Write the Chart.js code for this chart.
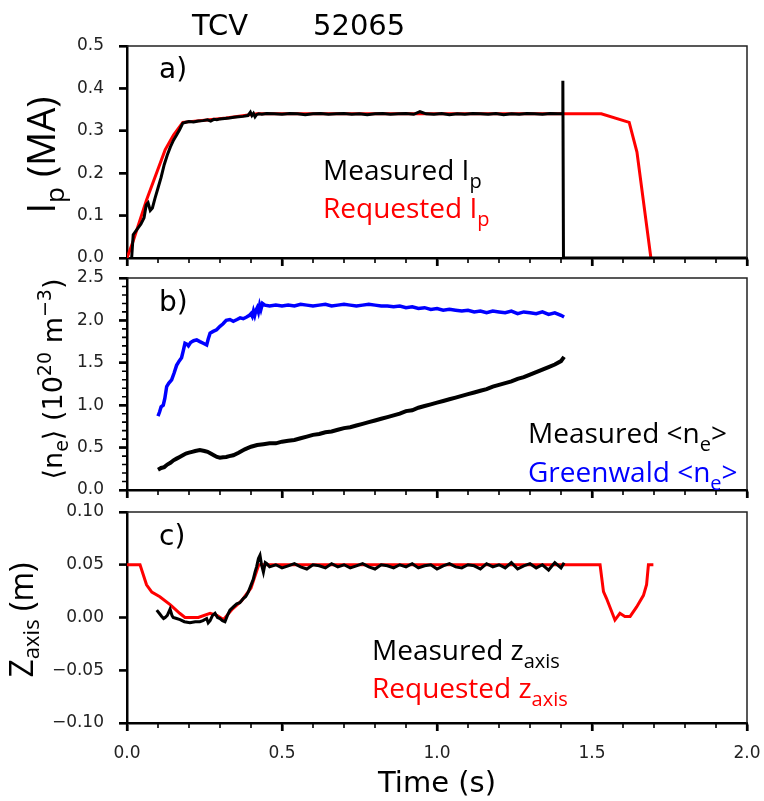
<!DOCTYPE html>
<html>
<head>
<meta charset="utf-8">
<title>TCV 52065</title>
<script src="https://cdn.jsdelivr.net/npm/chart.js@4.4.1/dist/chart.umd.min.js"></script>
<style>
  html, body { margin: 0; padding: 0; background: #fff; }
  #wrap { position: relative; width: 764px; height: 801px; overflow: hidden; }
  canvas { position: absolute; left: 0; }
  #labels { position: absolute; left: 0; top: 0; pointer-events: none; }
</style>
</head>
<body>
<div id="wrap">
  <canvas id="ipChart" width="764" height="242" style="top:36px"></canvas>
  <canvas id="neChart" width="764" height="242" style="top:268px"></canvas>
  <canvas id="zChart" width="764" height="271" style="top:502px"></canvas>

  <svg id="labels" width="764" height="801" xmlns="http://www.w3.org/2000/svg">
    <g font-family="DejaVu Sans" font-size="29" fill="#000">
      <text x="192" y="35">TCV</text>
      <text x="313" y="35">52065</text>
    </g>
    <g font-family="DejaVu Sans" font-size="28" fill="#000">
      <text x="159" y="78">a)</text>
      <text x="159" y="311">b)</text>
      <text x="159" y="545">c)</text>
    </g>

    <!-- axis titles -->
    <text transform="translate(55,155) rotate(-90)" text-anchor="middle" font-family="Open Sans" font-size="38">I<tspan font-size="26" dy="9">p</tspan><tspan dy="-9"> (MA)</tspan></text>
    <text transform="translate(62,379) rotate(-90)" text-anchor="middle" font-family="DejaVu Sans" font-size="27">⟨n<tspan font-size="19" dy="6">e</tspan><tspan dy="-6">⟩ (10</tspan><tspan font-size="19" dy="-11">20</tspan><tspan dy="11"> m</tspan><tspan font-size="19" dy="-11">−3</tspan><tspan dy="11">)</tspan></text>
    <text transform="translate(33,620) rotate(-90)" text-anchor="middle" font-family="Open Sans" font-size="32">Z<tspan font-size="22" dy="6">axis</tspan><tspan dy="-6"> (m)</tspan></text>
    <text x="437" y="792" text-anchor="middle" font-family="DejaVu Sans" font-size="29">Time (s)</text>

    <!-- in-panel keys -->
    <g font-family="Open Sans" font-size="28">
      <text x="323" y="180" fill="#000">Measured I<tspan font-size="20" dy="8">p</tspan></text>
      <text x="323" y="218" fill="#ff0000">Requested I<tspan font-size="20" dy="8">p</tspan></text>
      <text x="528" y="443" fill="#000">Measured &lt;n<tspan font-size="20" dy="8">e</tspan><tspan dy="-8">&gt;</tspan></text>
      <text x="528" y="482" fill="#0000ff">Greenwald &lt;n<tspan font-size="20" dy="8">e</tspan><tspan dy="-8">&gt;</tspan></text>
      <text x="372" y="660" fill="#000">Measured z<tspan font-size="20" dy="8">axis</tspan></text>
      <text x="372" y="698" fill="#ff0000">Requested z<tspan font-size="20" dy="8">axis</tspan></text>
    </g>
  </svg>
</div>

<script>
// ---- time axis (s) ----
const timeTicks = [0.0, 0.5, 1.0, 1.5, 2.0];
const timeMinor = [0.1, 0.2, 0.3, 0.4, 0.6, 0.7, 0.8, 0.9, 1.1, 1.2, 1.3, 1.4, 1.6, 1.7, 1.8, 1.9];

// ---- a) plasma current (MA) ----
const ipTicks = [0.0, 0.1, 0.2, 0.3, 0.4, 0.5];

const ipMeasT = [
  0.015, 0.02, 0.03, 0.045, 0.055, 0.062, 0.068, 0.075, 0.082, 0.09,
  0.1, 0.11, 0.12, 0.13, 0.14, 0.15, 0.16, 0.17, 0.18, 0.19,
  0.2, 0.215, 0.23, 0.245, 0.26, 0.27, 0.28, 0.29, 0.3, 0.315,
  0.33, 0.345, 0.36, 0.375, 0.39, 0.398, 0.403, 0.408, 0.413, 0.418,
  0.425, 0.435, 0.45, 0.475, 0.5, 0.525, 0.55, 0.575, 0.6, 0.625,
  0.65, 0.675, 0.7, 0.725, 0.75, 0.775, 0.8, 0.825, 0.85, 0.875,
  0.9, 0.925, 0.945, 0.965, 0.99, 1.015, 1.04, 1.065, 1.09, 1.115,
  1.14, 1.165, 1.19, 1.215, 1.24, 1.265, 1.29, 1.315, 1.34, 1.365,
  1.39, 1.404, 1.406, 1.408, 2.0
];
const ipMeas = [
  0, 0.055, 0.065, 0.08, 0.095, 0.125, 0.13, 0.112, 0.118, 0.14,
  0.165, 0.19, 0.22, 0.243, 0.262, 0.278, 0.29, 0.303, 0.318, 0.32,
  0.322, 0.321, 0.323, 0.324, 0.326, 0.323, 0.327, 0.326, 0.328, 0.329,
  0.33, 0.332, 0.333, 0.334, 0.336, 0.344, 0.336, 0.341, 0.333, 0.338,
  0.34, 0.339, 0.341, 0.34, 0.339, 0.341, 0.34, 0.338, 0.34, 0.341,
  0.339, 0.34, 0.341, 0.339, 0.34, 0.338, 0.34, 0.341, 0.339, 0.34,
  0.341, 0.339, 0.345, 0.34, 0.339, 0.341, 0.338, 0.34, 0.339, 0.341,
  0.34, 0.339, 0.341, 0.338, 0.34, 0.339, 0.341, 0.34, 0.339, 0.341,
  0.34, 0.34, 0.418, 0, 0
];

const ipReqT = [0, 0.02, 0.063, 0.123, 0.15, 0.18, 0.25, 0.32, 0.42, 1.53, 1.62, 1.645, 1.69];
const ipReq  = [0, 0.04, 0.137, 0.255, 0.29, 0.32, 0.325, 0.33, 0.34, 0.34, 0.32, 0.25, 0];

// ---- b) line-averaged density (1e20 m^-3) ----
const neTicks = [0.0, 0.5, 1.0, 1.5, 2.0, 2.5];
const neMinor = [0.1, 0.2, 0.3, 0.4, 0.6, 0.7, 0.8, 0.9, 1.1, 1.2, 1.3, 1.4, 1.6, 1.7, 1.8, 1.9, 2.1, 2.2, 2.3, 2.4];

const neGwT = [
  0.1, 0.105, 0.11, 0.117, 0.122, 0.128, 0.135, 0.144, 0.152, 0.16,
  0.168, 0.176, 0.182, 0.187, 0.193, 0.198, 0.205, 0.215, 0.225, 0.235,
  0.246, 0.257, 0.262, 0.268, 0.278, 0.289, 0.3, 0.31, 0.32, 0.332,
  0.343, 0.355, 0.365, 0.375, 0.386, 0.395, 0.4, 0.404, 0.408, 0.412,
  0.416, 0.42, 0.424, 0.428, 0.432, 0.437, 0.445, 0.46, 0.48, 0.5,
  0.52, 0.54, 0.56, 0.58, 0.6, 0.62, 0.64, 0.66, 0.68, 0.7,
  0.72, 0.74, 0.76, 0.78, 0.8, 0.82, 0.84, 0.86, 0.88, 0.9,
  0.92, 0.94, 0.96, 0.98, 1.0, 1.02, 1.04, 1.06, 1.08, 1.1,
  1.12, 1.14, 1.16, 1.18, 1.2, 1.22, 1.24, 1.26, 1.28, 1.3,
  1.32, 1.34, 1.36, 1.38, 1.4, 1.41
];
const neGw = [
  0.87, 0.92, 0.98, 1.0, 1.08, 1.22, 1.26, 1.30, 1.38, 1.47,
  1.52, 1.56, 1.65, 1.73, 1.72, 1.70, 1.74, 1.76, 1.77, 1.75,
  1.73, 1.71, 1.78, 1.85, 1.87, 1.89, 1.93, 1.96, 2.0, 2.01,
  1.99, 2.01, 2.03, 2.02, 2.04, 2.06, 2.08, 2.05, 2.11, 2.06,
  2.12, 2.15, 2.10, 2.18, 2.13, 2.2, 2.18, 2.17, 2.18, 2.17,
  2.18, 2.17, 2.19, 2.18, 2.17, 2.18, 2.19, 2.17, 2.18, 2.19,
  2.18, 2.17, 2.18, 2.19, 2.18, 2.17, 2.17, 2.16, 2.17, 2.15,
  2.16, 2.14, 2.15, 2.13, 2.14, 2.12, 2.13, 2.12, 2.11, 2.12,
  2.10, 2.11, 2.09, 2.11, 2.10, 2.09, 2.11, 2.08, 2.10, 2.09,
  2.08, 2.10, 2.07, 2.09, 2.06, 2.04
];

const neMeasT = [
  0.1, 0.11, 0.12, 0.13, 0.14, 0.15, 0.16, 0.17, 0.18, 0.19,
  0.2, 0.21, 0.22, 0.235, 0.25, 0.26, 0.27, 0.28, 0.29, 0.3,
  0.31, 0.32, 0.33, 0.343, 0.36, 0.38, 0.4, 0.42, 0.44, 0.46,
  0.48, 0.5, 0.52, 0.54, 0.56, 0.58, 0.6, 0.62, 0.64, 0.66,
  0.68, 0.7, 0.72, 0.74, 0.76, 0.78, 0.8, 0.82, 0.84, 0.86,
  0.88, 0.9, 0.92, 0.94, 0.96, 0.98, 1.0, 1.02, 1.04, 1.06,
  1.08, 1.1, 1.12, 1.14, 1.16, 1.18, 1.2, 1.22, 1.24, 1.26,
  1.28, 1.3, 1.32, 1.34, 1.36, 1.38, 1.4, 1.41
];
const neMeas = [
  0.24, 0.26, 0.27, 0.30, 0.32, 0.35, 0.37, 0.39, 0.41, 0.43,
  0.44, 0.45, 0.46, 0.47, 0.46, 0.45, 0.43, 0.41, 0.39, 0.38,
  0.385, 0.39, 0.40, 0.41, 0.44, 0.48, 0.51, 0.53, 0.54, 0.55,
  0.55, 0.57, 0.58, 0.59, 0.61, 0.63, 0.65, 0.66, 0.68, 0.69,
  0.71, 0.73, 0.74, 0.76, 0.78, 0.80, 0.82, 0.84, 0.86, 0.88,
  0.90, 0.93, 0.94, 0.97, 0.99, 1.01, 1.03, 1.05, 1.07, 1.09,
  1.11, 1.13, 1.15, 1.17, 1.19, 1.22, 1.24, 1.26, 1.28, 1.31,
  1.33, 1.36, 1.39, 1.42, 1.45, 1.48, 1.52, 1.57
];

// ---- c) magnetic axis height (m) ----
const zTicks = [-0.10, -0.05, 0.00, 0.05, 0.10];

const zMeasT = [
  0.096, 0.104, 0.112, 0.118, 0.123, 0.13, 0.139, 0.145, 0.149, 0.16,
  0.171, 0.185, 0.203, 0.22, 0.235, 0.245, 0.257, 0.262, 0.268, 0.276,
  0.284, 0.292, 0.3, 0.308, 0.316, 0.324, 0.332, 0.343, 0.354, 0.364,
  0.375, 0.383, 0.391, 0.399, 0.407, 0.413, 0.418, 0.424, 0.429, 0.434,
  0.44, 0.446, 0.451,
  0.46, 0.48, 0.5, 0.52, 0.54, 0.56, 0.58, 0.6, 0.62, 0.64,
  0.66, 0.68, 0.7, 0.72, 0.74, 0.76, 0.78, 0.8, 0.82, 0.84,
  0.86, 0.88, 0.9, 0.92, 0.94, 0.96, 0.98, 1.0, 1.02, 1.04,
  1.06, 1.08, 1.1, 1.12, 1.14, 1.16, 1.18, 1.2, 1.22, 1.24,
  1.26, 1.28, 1.3, 1.32, 1.34, 1.36, 1.38, 1.4, 1.41
];
const zMeas = [
  0.007, 0.004, 0.001, -0.001, 0.0, 0.002, 0.008, 0.002, 0.0, -0.001,
  -0.002, -0.004, -0.005, -0.004, -0.004, -0.003, -0.001, -0.005, -0.003, 0.002,
  0.004, 0.0, -0.001, -0.003, -0.004, 0.002, 0.007, 0.010, 0.013, 0.014,
  0.018, 0.020, 0.024, 0.030, 0.036, 0.043, 0.048, 0.056, 0.059, 0.050,
  0.043, 0.052, 0.051,
  0.048, 0.050, 0.047, 0.049, 0.051, 0.048, 0.046, 0.050, 0.049, 0.047,
  0.051, 0.048, 0.050, 0.047, 0.049, 0.051, 0.048, 0.046, 0.050, 0.049,
  0.047, 0.050, 0.048, 0.051, 0.047, 0.049, 0.050, 0.046, 0.049, 0.051,
  0.048, 0.047, 0.050, 0.049, 0.046, 0.051, 0.048, 0.050, 0.047, 0.052,
  0.046, 0.049, 0.051, 0.047, 0.050, 0.045, 0.052, 0.047, 0.052
];

const zReqT = [
  0, 0.042, 0.063, 0.08, 0.106, 0.14, 0.17, 0.187, 0.23, 0.268,
  0.29, 0.311, 0.34, 0.37, 0.4, 0.425, 1.526, 1.537, 1.547, 1.574,
  1.59, 1.606, 1.623, 1.644, 1.666, 1.676, 1.682, 1.698
];
const zReq = [
  0.05, 0.05, 0.031, 0.024, 0.0197, 0.012, 0.004, 0.0, 0.0, 0.004,
  0.002, -0.002, 0.008, 0.016, 0.028, 0.05, 0.05, 0.0245, 0.018, -0.0024,
  0.004, 0.001, 0.001, 0.010, 0.021, 0.031, 0.05, 0.05
];

// ---------------------------------------------------------------
const pts = (t, v) => t.map((ti, i) => ({ x: ti, y: v[i] }));

const line = (t, v, color, width) => ({
  data: pts(t, v),
  borderColor: color,
  borderWidth: width,
  pointRadius: 0,
  tension: 0,
  fill: false
});

// outward tick marks (major and minor) plus the thin top/right frame
const frame = {
  id: 'frame',
  afterDatasetsDraw(chart, args, opts) {
    const ctx = chart.ctx;
    const { x, y } = chart.scales;
    const a = chart.chartArea;
    const mark = (xs, ys, len, width) => {
      ctx.lineWidth = width;
      ctx.beginPath();
      xs.forEach(v => {
        const px = x.getPixelForValue(v);
        ctx.moveTo(px, a.bottom);
        ctx.lineTo(px, a.bottom + len);
      });
      ys.forEach(v => {
        const py = y.getPixelForValue(v);
        ctx.moveTo(a.left, py);
        ctx.lineTo(a.left - len, py);
      });
      ctx.stroke();
    };
    ctx.save();
    ctx.strokeStyle = '#000';
    mark(timeTicks, opts.major || [], 8, 2.2);
    mark(timeMinor, opts.minor || [], 5, 1.6);
    ctx.lineWidth = 1.5;
    ctx.strokeStyle = '#222';
    ctx.beginPath();
    ctx.moveTo(a.left, a.top);
    ctx.lineTo(a.right, a.top);
    ctx.lineTo(a.right, a.bottom);
    ctx.stroke();
    ctx.restore();
  }
};

const tickFont = { family: 'DejaVu Sans', size: 17 };

function timeScale(showLabels, height) {
  return {
    type: 'linear',
    min: 0,
    max: 2,
    afterBuildTicks: s => { s.ticks = timeTicks.map(v => ({ value: v })); },
    ticks: {
      display: showLabels,
      padding: 12,
      color: '#222',
      font: tickFont,
      maxRotation: 0,
      autoSkip: false,
      callback: v => v.toFixed(1)
    },
    grid: { drawOnChartArea: false, drawTicks: true, tickLength: 8, tickWidth: 2.2, tickColor: '#000' },
    border: { display: true, color: '#000', width: 2.5 },
    afterFit: s => { s.height = height; s.paddingLeft = 0; s.paddingRight = 0; }
  };
}

function valueScale(ticks, digits) {
  return {
    type: 'linear',
    min: ticks[0],
    max: ticks[ticks.length - 1],
    afterBuildTicks: s => { s.ticks = ticks.map(v => ({ value: v })); },
    ticks: {
      padding: 15,
      color: '#222',
      font: tickFont,
      callback: v => v.toFixed(digits).replace('-', '\u2212')
    },
    grid: { drawOnChartArea: false, drawTicks: true, tickLength: 8, tickWidth: 2.2, tickColor: '#000' },
    border: { display: true, color: '#000', width: 2.5 },
    afterFit: s => { s.width = 127; s.paddingTop = 0; s.paddingBottom = 0; }
  };
}

function panel(id, datasets, yTicks, digits, xScale, minorY) {
  return new Chart(document.getElementById(id), {
    type: 'line',
    data: { datasets: datasets },
    plugins: [frame],
    options: {
      responsive: false,
      animation: false,
      events: [],
      layout: { padding: { top: 10, left: 0, right: 17, bottom: 0 } },
      plugins: {
        legend: { display: false },
        tooltip: { enabled: false },
        frame: { major: yTicks, minor: minorY }
      },
      scales: { x: xScale, y: valueScale(yTicks, digits) }
    }
  });
}

panel('ipChart', [
  line(ipMeasT, ipMeas, '#000000', 3),
  line(ipReqT, ipReq, '#ff0000', 3)
], ipTicks, 1, timeScale(false, 20), []);

panel('neChart', [
  line(neMeasT, neMeas, '#000000', 4),
  line(neGwT, neGw, '#0000ff', 3.5)
], neTicks, 1, timeScale(false, 20), neMinor);

panel('zChart', [
  line(zMeasT, zMeas, '#000000', 3),
  line(zReqT, zReq, '#ff0000', 3)
], zTicks, 2, timeScale(true, 50), []);
</script>
</body>
</html>
